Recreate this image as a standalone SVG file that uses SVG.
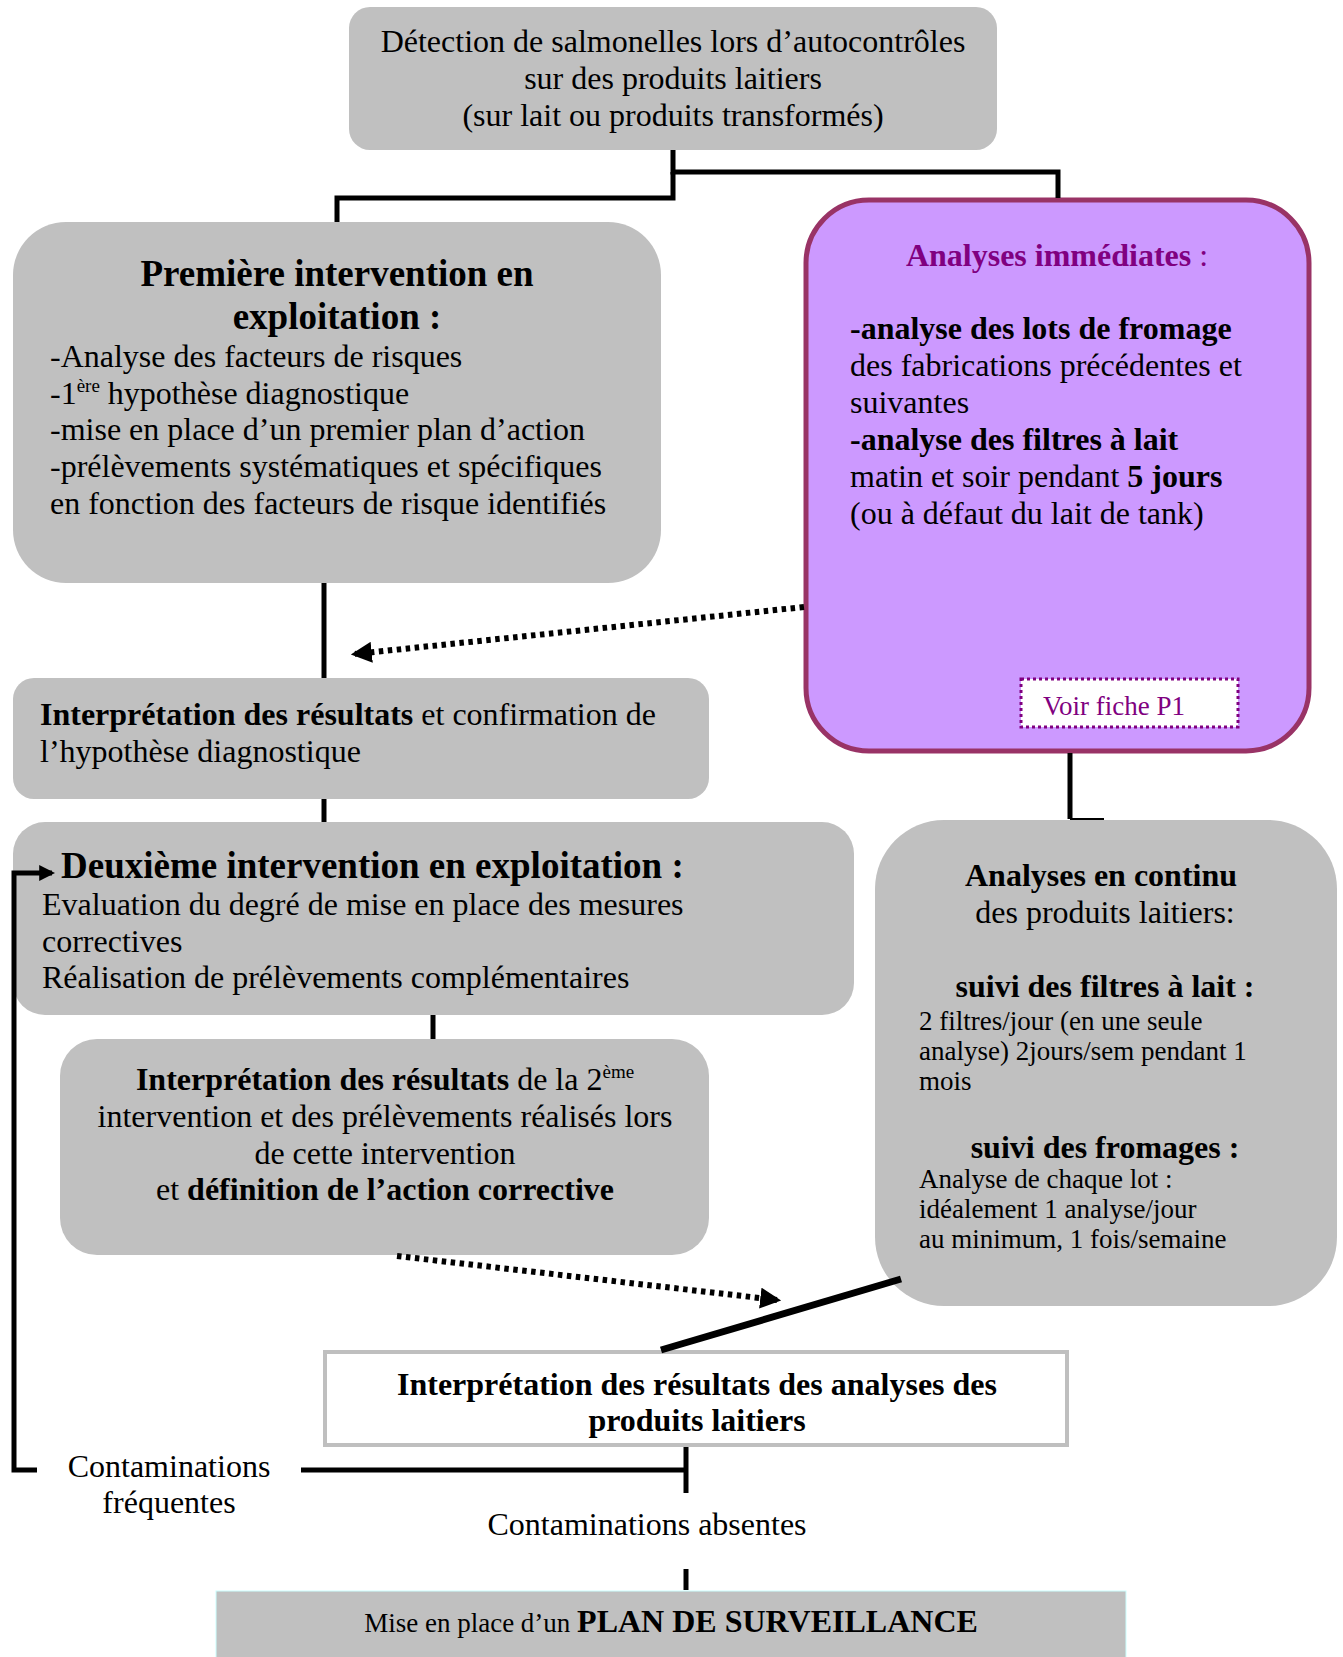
<svg xmlns="http://www.w3.org/2000/svg" width="1343" height="1657" viewBox="0 0 1343 1657">
<style>
text{font-family:"Liberation Serif","Times New Roman",serif;fill:#000}
.g{fill:#C0C0C0}
.t{font-size:32px}
.h{font-size:37px;font-weight:bold}
.b{font-weight:bold}
.c{text-anchor:middle}
.s{font-size:27px}
.ln{fill:none;stroke:#000;stroke-width:5}
.dot{fill:none;stroke:#000;stroke-width:6;stroke-dasharray:4.5,4.5}
.pu{fill:#800080}
</style>
<defs>
<marker id="ah" viewBox="0 0 10 10" refX="8" refY="5" markerWidth="3.5" markerHeight="3.5" orient="auto">
<path d="M0,0 L10,5 L0,10 z" fill="#000"/>
</marker>
<marker id="ah2" viewBox="0 0 10 10" refX="8" refY="5" markerWidth="3.2" markerHeight="3.2" orient="auto">
<path d="M0,0 L10,5 L0,10 z" fill="#000"/>
</marker>
</defs>

<g id="n-detection">
<rect class="g" x="349" y="7" width="648" height="143" rx="21"/>
<text class="t c" x="673" y="52">Détection de salmonelles lors d’autocontrôles</text>
<text class="t c" x="673" y="89">sur des produits laitiers</text>
<text class="t c" x="673" y="126">(sur lait ou produits transformés)</text>
</g>

<g id="n-premiere">
<rect class="g" x="13" y="222" width="648" height="361" rx="53"/>
<text class="h c" x="337" y="286">Première intervention en</text>
<text class="h c" x="337" y="329">exploitation :</text>
<text class="t" x="50" y="367">-Analyse des facteurs de risques</text>
<text class="t" x="50" y="404">-1<tspan font-size="19" dy="-12">ère</tspan><tspan dy="12"> hypothèse diagnostique</tspan></text>
<text class="t" x="50" y="440">-mise en place d’un premier plan d’action</text>
<text class="t" x="50" y="477">-prélèvements systématiques et spécifiques</text>
<text class="t" x="50" y="514">en fonction des facteurs de risque identifiés</text>
</g>

<g id="n-immediates">
<rect x="806" y="200" width="503" height="551" rx="63" fill="#CC99FF" stroke="#993366" stroke-width="5"/>
<text class="t b c pu" x="1057" y="266">Analyses immédiates <tspan font-weight="normal">:</tspan></text>
<text class="t b" x="850" y="339">-analyse des lots de fromage</text>
<text class="t" x="850" y="376">des fabrications précédentes et</text>
<text class="t" x="850" y="413">suivantes</text>
<text class="t b" x="850" y="450">-analyse des filtres à lait</text>
<text class="t" x="850" y="487">matin et soir pendant <tspan font-weight="bold">5 jours</tspan></text>
<text class="t" x="850" y="524">(ou à défaut du lait de tank)</text>
<rect x="1021" y="679" width="217" height="48" fill="#fff" stroke="#800080" stroke-width="3" stroke-dasharray="3,3"/>
<text class="pu" x="1043" y="715" font-size="27">Voir fiche P1</text>
</g>

<g id="n-interp1">
<rect class="g" x="13" y="678" width="696" height="121" rx="21"/>
<text class="t" x="40" y="725"><tspan font-weight="bold">Interprétation des résultats</tspan> et confirmation de</text>
<text class="t" x="40" y="762">l’hypothèse diagnostique</text>
</g>

<g id="n-deuxieme">
<rect class="g" x="13" y="822" width="841" height="193" rx="32"/>
<text class="h" x="61" y="878">Deuxième intervention en exploitation :</text>
<text class="t" x="42" y="915">Evaluation du degré de mise en place des mesures</text>
<text class="t" x="42" y="952">correctives</text>
<text class="t" x="42" y="988">Réalisation de prélèvements complémentaires</text>
</g>

<g id="n-interp2">
<rect class="g" x="60" y="1039" width="649" height="216" rx="37"/>
<text class="t c" x="385" y="1090"><tspan font-weight="bold">Interprétation des résultats</tspan> de la 2<tspan font-size="19" dy="-12">ème</tspan></text>
<text class="t c" x="385" y="1127">intervention et des prélèvements réalisés lors</text>
<text class="t c" x="385" y="1164">de cette intervention</text>
<text class="t c" x="385" y="1200">et <tspan font-weight="bold">définition de l’action corrective</tspan></text>
</g>

<g id="n-continu">
<rect class="g" x="875" y="820" width="462" height="486" rx="69"/>
<text class="t b c" x="1101" y="886">Analyses en continu</text>
<text class="t c" x="1105" y="923">des produits laitiers:</text>
<text class="t b c" x="1105" y="997">suivi des filtres à lait :</text>
<text class="s" x="919" y="1030">2 filtres/jour (en une seule</text>
<text class="s" x="919" y="1060">analyse) 2jours/sem pendant 1</text>
<text class="s" x="919" y="1090">mois</text>
<text class="t b c" x="1105" y="1158">suivi des fromages :</text>
<text class="s" x="919" y="1188">Analyse de chaque lot :</text>
<text class="s" x="919" y="1218">idéalement 1 analyse/jour</text>
<text class="s" x="919" y="1248">au minimum, 1 fois/semaine</text>
</g>

<g id="n-interp3">
<rect x="325" y="1352" width="742" height="93" fill="#fff" stroke="#BFBFBF" stroke-width="4"/>
<text class="t b c" x="697" y="1395">Interprétation des résultats des analyses des</text>
<text class="t b c" x="697" y="1431">produits laitiers</text>
</g>

<g id="n-labels">
<text class="t c" x="169" y="1477">Contaminations</text>
<text class="t c" x="169" y="1513">fréquentes</text>
<text class="t c" x="647" y="1535">Contaminations absentes</text>
</g>

<g id="n-plan">
<rect class="g" x="216" y="1591" width="910" height="70" stroke="#CCFFFF" stroke-width="1"/>
<text class="c" x="671" y="1632" font-size="27">Mise en place d’un <tspan font-weight="bold" font-size="32">PLAN DE SURVEILLANCE</tspan></text>
</g>

<g id="connectors">
<polyline class="ln" points="673,150 673,172 1058,172 1058,198"/>
<polyline class="ln" points="673,172 673,198 337,198 337,222"/>
<line class="ln" x1="324" y1="583" x2="324" y2="678"/>
<line class="ln" x1="324" y1="799" x2="324" y2="822"/>
<line class="ln" x1="433" y1="1015" x2="433" y2="1039"/>
<line class="dot" x1="804" y1="607" x2="355" y2="654" marker-end="url(#ah)"/>
<line class="dot" x1="397" y1="1256" x2="777" y2="1300" marker-end="url(#ah)"/>
<polyline class="ln" points="1070,753 1070,819"/>
<line x1="1070" y1="819" x2="1104" y2="819" stroke="#000" stroke-width="2"/>
<line x1="901" y1="1279" x2="661" y2="1350" stroke="#000" stroke-width="7"/>
<line class="ln" x1="686" y1="1447" x2="686" y2="1493"/>
<line class="ln" x1="301" y1="1470" x2="686" y2="1470"/>
<polyline class="ln" points="37,1470 14,1470 14,873 52,873" marker-end="url(#ah2)"/>
<line class="ln" x1="686" y1="1569" x2="686" y2="1590"/>
</g>
</svg>
